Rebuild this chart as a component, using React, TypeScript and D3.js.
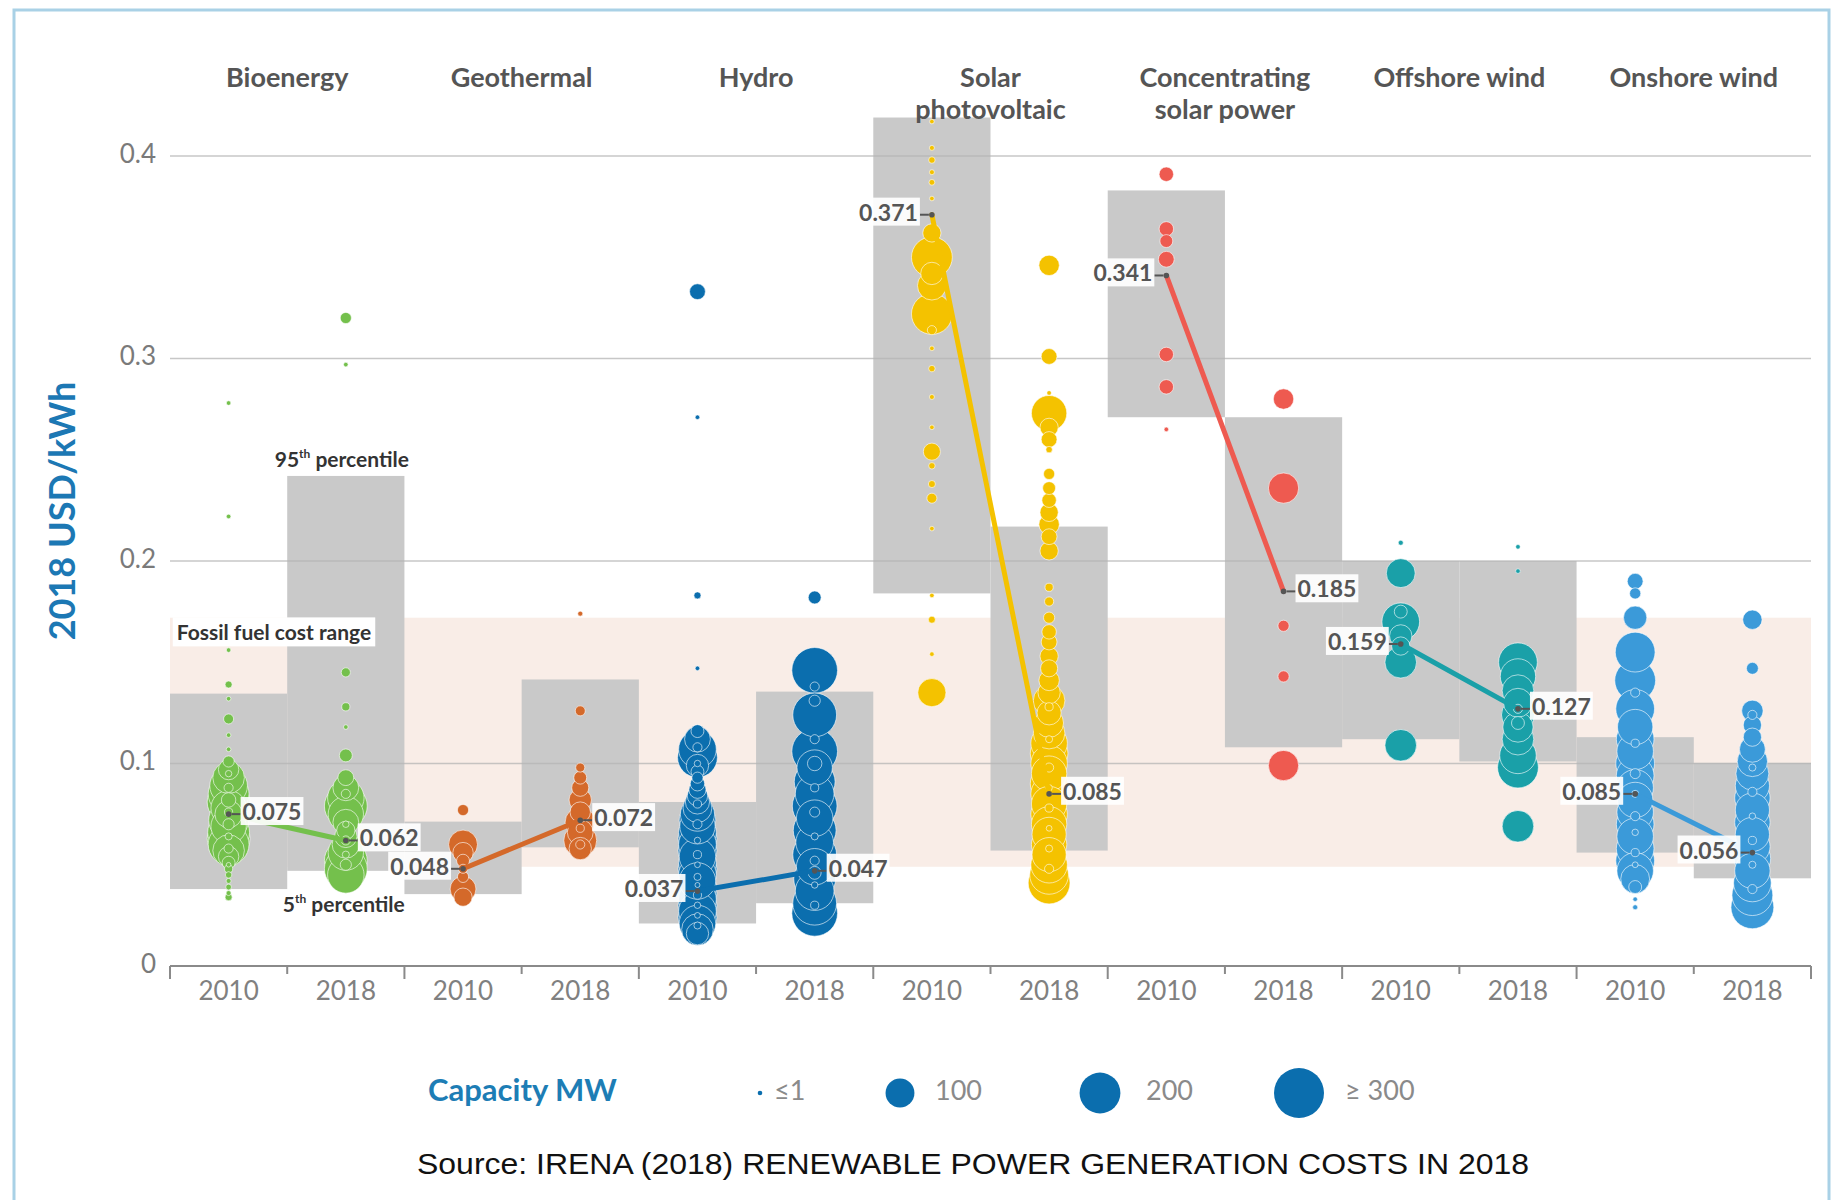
import React, { useEffect, useRef } from "react";
import * as d3 from "d3";

const WIDTH = 1838;
const HEIGHT = 1200;
const FONT = "Lato, 'Open Sans', 'DejaVu Sans', sans-serif";

const techNames = [
  "Bioenergy",
  "Geothermal",
  "Hydro",
  "Solar photovoltaic",
  "Concentrating solar power",
  "Offshore wind",
  "Onshore wind",
];
const techLines = [
  ["Bioenergy"],
  ["Geothermal"],
  ["Hydro"],
  ["Solar", "photovoltaic"],
  ["Concentrating", "solar power"],
  ["Offshore wind"],
  ["Onshore wind"],
];
const years = ["2010", "2018"];
const techColors = ["#74c04c", "#d4692a", "#0b6eae", "#f4c200", "#ee5a50", "#1aa0a8", "#3b9ad9"];

// 5th and 95th percentile (grey boxes), 2018 USD/kWh
const p5in2010 = [0.038, 0.0355, 0.021, 0.184, 0.271, 0.112, 0.056];
const p95in2010 = [0.1345, 0.0713, 0.081, 0.419, 0.383, 0.2, 0.113];
const p5in2018 = [0.047, 0.0586, 0.031, 0.057, 0.108, 0.101, 0.0433];
const p95in2018 = [0.242, 0.1415, 0.1355, 0.217, 0.271, 0.2, 0.1003];

// capacity weighted averages
const avg2010 = [0.075, 0.048, 0.037, 0.371, 0.341, 0.159, 0.085];
const avg2018 = [0.062, 0.072, 0.047, 0.085, 0.185, 0.127, 0.056];
const labelSide2010 = ["right", "left", "left", "left", "left", "left", "left"];
const labelSide2018 = ["right", "right", "right", "right", "right", "right", "left"];

const fossilRange = [0.049, 0.172];
const yTicks = [0, 0.1, 0.2, 0.3, 0.4];
const legendSizes = [1, 100, 200, 300];
const legendLabels = ["≤1", "100", "200", "≥ 300"];

// projects: [USD/kWh, capacity MW]
const bio2010 = [
  [0.278, 2], [0.222, 2], [0.156, 1], [0.139, 6], [0.132, 2], [0.122, 12], [0.114, 1], [0.107, 1],
  [0.101, 15], [0.097, 50], [0.093, 120], [0.089, 170], [0.085, 200], [0.081, 220], [0.078, 150],
  [0.075, 90], [0.072, 190], [0.069, 150], [0.066, 210], [0.063, 220], [0.060, 200], [0.057, 120],
  [0.054, 50], [0.051, 20], [0.048, 8], [0.045, 5], [0.042, 3], [0.039, 4], [0.036, 3], [0.034, 6],
  [0.095, 5], [0.088, 10], [0.082, 25], [0.076, 8], [0.070, 15], [0.064, 6], [0.058, 10], [0.05, 2],
];
const bio2018 = [
  [0.320, 15], [0.297, 1], [0.145, 10], [0.128, 8], [0.118, 1], [0.104, 20], [0.093, 30],
  [0.088, 80], [0.083, 160], [0.079, 220], [0.075, 150], [0.071, 80], [0.067, 40], [0.064, 60],
  [0.060, 90], [0.056, 150], [0.052, 220], [0.048, 220], [0.045, 160],
  [0.085, 10], [0.070, 5], [0.062, 10], [0.055, 6], [0.050, 15],
];
const geo2010 = [
  [0.077, 15], [0.060, 100], [0.056, 50], [0.052, 20], [0.048, 10], [0.044, 15], [0.038, 80], [0.034, 40],
];
const geo2018 = [
  [0.174, 3], [0.126, 12], [0.098, 10], [0.093, 20], [0.088, 35], [0.082, 60], [0.076, 50],
  [0.071, 110], [0.066, 80], [0.062, 130], [0.058, 60], [0.060, 10], [0.068, 8],
];
const hydro2010 = [
  [0.333, 30], [0.271, 1], [0.183, 6], [0.147, 2],
  [0.116, 20], [0.112, 80], [0.107, 170], [0.103, 190], [0.099, 60], [0.096, 20], [0.093, 15],
  [0.090, 25], [0.087, 35], [0.084, 50], [0.081, 70], [0.078, 100], [0.075, 140], [0.072, 160],
  [0.069, 150], [0.066, 170], [0.063, 180], [0.060, 170], [0.057, 180], [0.054, 160], [0.051, 170],
  [0.048, 180], [0.045, 170], [0.042, 160], [0.039, 170], [0.036, 180], [0.033, 170], [0.030, 180],
  [0.027, 170], [0.024, 180], [0.021, 160], [0.018, 120], [0.016, 60],
  [0.108, 10], [0.100, 5], [0.080, 8], [0.070, 10], [0.062, 5], [0.055, 8], [0.050, 4], [0.044, 6],
  [0.040, 3], [0.035, 8], [0.030, 5], [0.025, 4], [0.020, 6],
];
const hydro2018 = [
  [0.182, 20], [0.146, 250], [0.138, 10], [0.124, 230], [0.106, 250], [0.098, 150], [0.091, 200],
  [0.085, 180], [0.079, 240], [0.073, 160], [0.067, 220], [0.061, 170], [0.055, 230], [0.049, 160],
  [0.043, 210], [0.037, 180], [0.031, 230], [0.026, 250],
  [0.131, 15], [0.112, 10], [0.100, 25], [0.088, 8], [0.076, 12], [0.064, 6], [0.052, 10],
  [0.046, 20], [0.040, 5], [0.030, 8],
];
const pv2010 = [
  [0.417, 1], [0.404, 3], [0.398, 5], [0.392, 3], [0.387, 4], [0.379, 2], [0.371, 3], [0.362, 40],
  [0.350, 200], [0.342, 60], [0.336, 100], [0.322, 200], [0.314, 10], [0.305, 2], [0.295, 5],
  [0.281, 3], [0.266, 2], [0.254, 35], [0.247, 5], [0.238, 6], [0.231, 12], [0.216, 1], [0.183, 2],
  [0.171, 6], [0.154, 1], [0.135, 95],
];
const pv2018 = [
  [0.346, 50], [0.301, 30], [0.283, 1], [0.273, 150], [0.266, 40], [0.260, 30], [0.255, 5],
  [0.243, 15], [0.236, 20], [0.230, 25], [0.224, 40], [0.218, 50], [0.212, 30], [0.205, 40],
  [0.187, 8], [0.180, 10], [0.172, 15], [0.165, 25], [0.160, 30], [0.153, 40], [0.147, 35],
  [0.141, 50], [0.135, 60], [0.131, 120], [0.125, 70], [0.120, 100], [0.115, 120], [0.110, 160],
  [0.105, 170], [0.100, 160], [0.095, 150], [0.090, 170], [0.085, 160], [0.080, 150], [0.075, 160],
  [0.070, 150], [0.065, 140], [0.060, 150], [0.055, 140], [0.050, 160], [0.045, 180], [0.041, 210],
  [0.128, 8], [0.112, 6], [0.098, 10], [0.088, 5], [0.078, 8], [0.068, 4], [0.058, 6], [0.048, 10],
];
const csp2010 = [
  [0.391, 25], [0.364, 25], [0.358, 20], [0.349, 30], [0.302, 25], [0.286, 25], [0.265, 2],
];
const csp2018 = [
  [0.280, 50], [0.236, 110], [0.168, 15], [0.143, 15], [0.099, 110],
];
const off2010 = [
  [0.209, 3], [0.194, 100], [0.175, 20], [0.170, 170], [0.163, 60], [0.158, 40], [0.150, 120], [0.109, 120],
];
const off2018 = [
  [0.207, 1], [0.195, 1], [0.150, 180], [0.143, 150], [0.136, 120], [0.130, 100], [0.124, 130],
  [0.118, 110], [0.112, 120], [0.104, 160], [0.098, 200], [0.069, 120], [0.120, 20], [0.127, 10],
];
const on2010 = [
  [0.190, 30], [0.184, 15], [0.172, 65], [0.155, 190], [0.141, 200], [0.127, 180], [0.118, 150],
  [0.112, 170], [0.106, 160], [0.100, 180], [0.094, 170], [0.088, 160], [0.082, 150], [0.076, 160],
  [0.070, 170], [0.064, 160], [0.058, 170], [0.052, 180], [0.047, 160], [0.043, 100], [0.039, 20],
  [0.033, 2], [0.029, 3],
  [0.135, 10], [0.110, 8], [0.095, 12], [0.085, 6], [0.074, 10], [0.066, 5], [0.056, 8], [0.050, 4],
];
const on2018 = [
  [0.171, 45], [0.147, 17], [0.126, 55], [0.119, 40], [0.113, 40], [0.107, 80], [0.101, 110],
  [0.095, 130], [0.089, 140], [0.083, 150], [0.077, 140], [0.071, 150], [0.065, 140], [0.059, 150],
  [0.053, 160], [0.047, 150], [0.041, 170], [0.035, 200], [0.029, 220],
  [0.124, 10], [0.098, 6], [0.086, 10], [0.074, 5], [0.062, 8], [0.050, 6], [0.038, 10],
];

const bubbleSets = [
  [bio2010, bio2018],
  [geo2010, geo2018],
  [hydro2010, hydro2018],
  [pv2010, pv2018],
  [csp2010, csp2018],
  [off2010, off2018],
  [on2010, on2018],
];

export default function App() {
  const ref = useRef<SVGSVGElement>(null);

  useEffect(() => {
    const svg = d3.select(ref.current);
    svg.selectAll("*").remove();

    const x = d3.scaleBand().domain(techNames).range([170, 1811]);
    const xYear = d3.scaleBand().domain(years).range([0, x.bandwidth()]);
    const colX = (t: number, yi: number) =>
      (x(techNames[t]) as number) + (xYear(years[yi]) as number) + xYear.bandwidth() / 2;
    const y = d3.scaleLinear().domain([0, 0.4]).range([966, 156]);
    const rScale = d3.scaleSqrt().domain([0, 300]).range([0, 25]).clamp(true);
    const rad = (mw: number) => Math.max(2.3, rScale(mw));

    // frame
    svg
      .append("path")
      .attr("d", "M14,1200 V10 H1829 V1200")
      .attr("fill", "none")
      .attr("stroke", "#a9d1e6")
      .attr("stroke-width", 3);

    // fossil fuel band
    svg
      .append("rect")
      .attr("x", 170)
      .attr("width", 1641)
      .attr("y", y(fossilRange[1]))
      .attr("height", y(fossilRange[0]) - y(fossilRange[1]))
      .attr("fill", "#f9ede7");

    // percentile boxes
    techNames.forEach((t, i) => {
      [
        [p5in2010, p95in2010],
        [p5in2018, p95in2018],
      ].forEach(([lo, hi], yi) => {
        svg
          .append("rect")
          .attr("x", (x(t) as number) + (xYear(years[yi]) as number))
          .attr("width", xYear.bandwidth())
          .attr("y", y(hi[i]))
          .attr("height", y(lo[i]) - y(hi[i]))
          .attr("fill", "#c9c9c9");
      });
    });

    // grid
    svg
      .selectAll(".grid")
      .data(yTicks.slice(1))
      .enter()
      .append("line")
      .attr("x1", 170)
      .attr("x2", 1811)
      .attr("y1", (d) => y(d))
      .attr("y2", (d) => y(d))
      .attr("stroke", "#b4b4b4")
      .attr("stroke-opacity", 0.75)
      .attr("stroke-width", 1.3);

    svg
      .selectAll(".ylab")
      .data(yTicks)
      .enter()
      .append("text")
      .attr("x", 156)
      .attr("y", (d) => y(d))
      .attr("text-anchor", "end")
      .attr("dominant-baseline", "middle")
      .style("font-family", FONT)
      .style("font-size", "26px")
      .style("fill", "#7a7a7a")
      .text((d) => (d === 0 ? "0" : d3.format(".1f")(d)));

    // x axis
    svg
      .append("line")
      .attr("x1", 170)
      .attr("x2", 1811)
      .attr("y1", y(0))
      .attr("y2", y(0))
      .attr("stroke", "#8a8a8a")
      .attr("stroke-width", 2);

    const tickPos: number[] = [];
    techNames.forEach((t) => {
      tickPos.push(x(t) as number, (x(t) as number) + xYear.bandwidth());
    });
    tickPos.push(1811);
    tickPos.forEach((p, k) => {
      svg
        .append("line")
        .attr("x1", p)
        .attr("x2", p)
        .attr("y1", y(0))
        .attr("y2", y(0) + (k % 2 === 0 ? 13 : 8))
        .attr("stroke", "#8a8a8a")
        .attr("stroke-width", 2);
    });

    techNames.forEach((t, i) => {
      years.forEach((yr, yi) => {
        svg
          .append("text")
          .attr("x", colX(i, yi))
          .attr("y", 993)
          .attr("text-anchor", "middle")
          .attr("dominant-baseline", "middle")
          .style("font-family", FONT)
          .style("font-size", "26px")
          .style("fill", "#808080")
          .text(yr);
      });
      const label = svg
        .append("text")
        .attr("text-anchor", "middle")
        .style("font-family", FONT)
        .style("font-size", "27px")
        .style("font-weight", 700)
        .style("fill", "#555");
      techLines[i].forEach((line, li) => {
        label
          .append("tspan")
          .attr("x", (x(t) as number) + x.bandwidth() / 2)
          .attr("y", 87 + li * 32)
          .text(line);
      });
    });

    // bubbles
    bubbleSets.forEach((pair, t) => {
      pair.forEach((points, yi) => {
        const sorted = [...points].sort((a, b) => b[1] - a[1]);
        svg
          .append("g")
          .selectAll("circle")
          .data(sorted)
          .enter()
          .append("circle")
          .attr("cx", colX(t, yi))
          .attr("cy", (d) => y(d[0]))
          .attr("r", (d) => rad(d[1]))
          .attr("fill", techColors[t])
          .attr("stroke", "#ffffff")
          .attr("stroke-opacity", 0.6)
          .attr("stroke-width", 1);
      });
    });

    // average lines
    techNames.forEach((t, i) => {
      svg
        .append("line")
        .attr("x1", colX(i, 0))
        .attr("y1", y(avg2010[i]))
        .attr("x2", colX(i, 1))
        .attr("y2", y(avg2018[i]))
        .attr("stroke", techColors[i])
        .attr("stroke-width", 5)
        .attr("stroke-linecap", "round");
    });

    // average labels
    const addLabel = (px: number, value: number, side: string) => {
      const py = y(value);
      const dir = side === "right" ? 1 : -1;
      svg.append("circle").attr("cx", px).attr("cy", py).attr("r", 2.8).attr("fill", "#555");
      svg
        .append("line")
        .attr("x1", px + dir * 3)
        .attr("x2", px + dir * 12)
        .attr("y1", py)
        .attr("y2", py)
        .attr("stroke", "#555")
        .attr("stroke-width", 2);
      const g = svg.append("g");
      const txt = g
        .append("text")
        .attr("x", px + dir * 14)
        .attr("y", py)
        .attr("text-anchor", side === "right" ? "start" : "end")
        .attr("dominant-baseline", "middle")
        .style("font-family", FONT)
        .style("font-size", "23px")
        .style("font-weight", 700)
        .style("fill", "#555")
        .text(d3.format(".3f")(value));
      const bb = (txt.node() as SVGTextElement).getBBox();
      g.insert("rect", "text")
        .attr("x", bb.x - 2)
        .attr("y", bb.y)
        .attr("width", bb.width + 4)
        .attr("height", bb.height)
        .attr("fill", "#fff")
        .attr("fill-opacity", 0.92);
    };
    techNames.forEach((t, i) => {
      addLabel(colX(i, 0), avg2010[i], labelSide2010[i]);
      addLabel(colX(i, 1), avg2018[i], labelSide2018[i]);
    });

    // annotations
    const note = (cxPos: number, cyPos: number, parts: [string, boolean][], bg: boolean) => {
      const g = svg.append("g");
      const txt = g
        .append("text")
        .attr("x", cxPos)
        .attr("y", cyPos)
        .attr("text-anchor", "middle")
        .attr("dominant-baseline", "middle")
        .style("font-family", FONT)
        .style("font-size", "21px")
        .style("font-weight", 700)
        .style("fill", "#333");
      parts.forEach(([s, sup]) => {
        const ts = txt.append("tspan").text(s);
        if (sup) ts.attr("baseline-shift", "super").style("font-size", "12px");
      });
      if (bg) {
        const bb = (txt.node() as SVGTextElement).getBBox();
        g.insert("rect", "text")
          .attr("x", bb.x - 4)
          .attr("y", bb.y - 2)
          .attr("width", bb.width + 8)
          .attr("height", bb.height + 4)
          .attr("fill", "#fff");
      }
    };
    note(colX(0, 1) - 4, 462, [["95", false], ["th", true], [" percentile", false]], false);
    note(colX(0, 1) - 2, 907, [["5", false], ["th", true], [" percentile", false]], false);
    note(274, 635, [["Fossil fuel cost range", false]], true);

    // y title
    svg
      .append("text")
      .attr("transform", "translate(66,511) rotate(-90)")
      .attr("text-anchor", "middle")
      .attr("dominant-baseline", "middle")
      .style("font-family", FONT)
      .style("font-size", "36px")
      .style("font-weight", 700)
      .style("fill", "#1c78b4")
      .text("2018 USD/kWh");

    // legend
    svg
      .append("text")
      .attr("x", 428)
      .attr("y", 1093)
      .attr("dominant-baseline", "middle")
      .style("font-family", FONT)
      .style("font-size", "31px")
      .style("font-weight", 700)
      .style("fill", "#1d7db5")
      .text("Capacity MW");
    const legendX = [760, 900, 1100, 1299];
    const legendTextX = [774, 935, 1146, 1345];
    legendSizes.forEach((s, k) => {
      svg
        .append("circle")
        .attr("cx", legendX[k])
        .attr("cy", 1093)
        .attr("r", rad(s))
        .attr("fill", "#0b6eae");
      svg
        .append("text")
        .attr("x", legendTextX[k])
        .attr("y", 1093)
        .attr("dominant-baseline", "middle")
        .style("font-family", FONT)
        .style("font-size", "27px")
        .style("fill", "#8a8a8a")
        .text(legendLabels[k]);
    });

    // source
    svg
      .append("text")
      .attr("x", 973)
      .attr("y", 1166)
      .attr("text-anchor", "middle")
      .attr("dominant-baseline", "middle")
      .attr("textLength", 1112)
      .attr("lengthAdjust", "spacingAndGlyphs")
      .style("font-family", "'Liberation Sans', Arial, sans-serif")
      .style("font-size", "29px")
      .style("fill", "#111")
      .text("Source: IRENA (2018) RENEWABLE POWER GENERATION COSTS IN 2018");
  }, []);

  return (
    <svg
      ref={ref}
      width={WIDTH}
      height={HEIGHT}
      viewBox={`0 0 ${WIDTH} ${HEIGHT}`}
      style={{ position: "absolute", left: 0, top: 0, background: "#fff", display: "block" }}
    />
  );
}
